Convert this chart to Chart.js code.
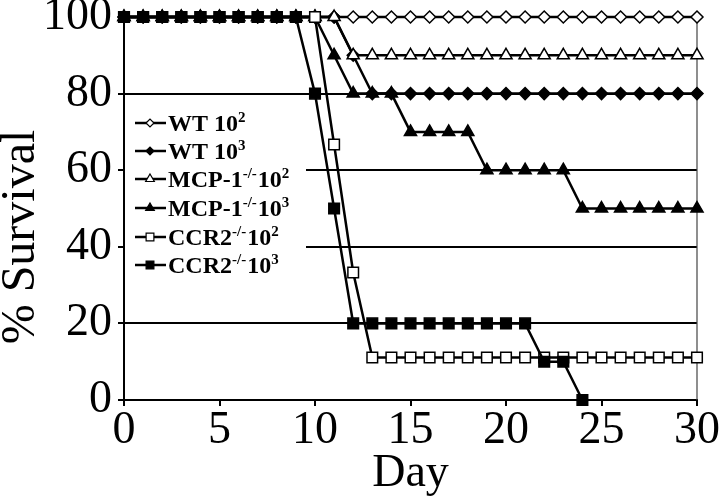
<!DOCTYPE html>
<html>
<head>
<meta charset="utf-8">
<script src="https://cdn.jsdelivr.net/npm/chart.js@4/dist/chart.umd.min.js"></script>
<style>
  html, body { margin: 0; padding: 0; background: #fff; }
  #wrap { width: 720px; height: 502px; }
</style>
</head>
<body>
<div id="wrap"><canvas id="survChart"></canvas></div>
<script>
// ----------------------------- data -----------------------------
const days   = [0,1,2,3,4,5,6,7,8,9,10,11,12,13,14,15,16,17,18,19,20,21,22,23,24,25,26,27,28,29,30];
const wt102  = [100,100,100,100,100,100,100,100,100,100,100,100,100,100,100,100,100,100,100,100,100,100,100,100,100,100,100,100,100,100,100];
const wt103  = [100,100,100,100,100,100,100,100,100,100,100,100,90,80,80,80,80,80,80,80,80,80,80,80,80,80,80,80,80,80,80];
const mcp102 = [100,100,100,100,100,100,100,100,100,100,100,100,90,90,90,90,90,90,90,90,90,90,90,90,90,90,90,90,90,90,90];
const mcp103 = [100,100,100,100,100,100,100,100,100,100,100,90,80,80,80,70,70,70,70,60,60,60,60,60,50,50,50,50,50,50,50];
const ccr102 = [100,100,100,100,100,100,100,100,100,100,100,66.7,33.3,11.1,11.1,11.1,11.1,11.1,11.1,11.1,11.1,11.1,11.1,11.1,11.1,11.1,11.1,11.1,11.1,11.1,11.1];
const ccr103 = [100,100,100,100,100,100,100,100,100,100,80,50,20,20,20,20,20,20,20,20,20,20,10,10,0,null,null,null,null,null,null];

const xTicks = [0,5,10,15,20,25,30];
const yTicks = [0,20,40,60,80,100];

// legend text pieces: text, superscript, text, superscript
const legendLabels = [
  ['WT 10', '2'],
  ['WT 10', '3'],
  ['MCP-1', '-/-', '10', '2'],
  ['MCP-1', '-/-', '10', '3'],
  ['CCR2', '-/-', '10', '2'],
  ['CCR2', '-/-', '10', '3']
];

const serif = "'Liberation Serif', 'Times New Roman', serif";

// ----------------------------- datasets -----------------------------
function toPoints(vals) {
  return days.map((d, i) => ({ x: d, y: vals[i] }));
}

const styles = [
  { style: 'rectRot',  fill: '#fff', r: 6 },
  { style: 'rectRot',  fill: '#000', r: 6 },
  { style: 'triangle', fill: '#fff', r: 7 },
  { style: 'triangle', fill: '#000', r: 7 },
  { style: 'rect',     fill: '#fff', r: 7.5 },
  { style: 'rect',     fill: '#000', r: 7.5 }
];

const series = [wt102, wt103, mcp102, mcp103, ccr102, ccr103];

const datasets = series.map((vals, i) => ({
  label: legendLabels[i].join(''),
  data: toPoints(vals),
  borderColor: '#000',
  borderWidth: 2.5,
  pointStyle: styles[i].style,
  pointRadius: styles[i].r,
  pointBackgroundColor: styles[i].fill,
  pointBorderColor: '#000',
  pointBorderWidth: 1.5,
  tension: 0,
  clip: false,
  order: series.length - i   // later series on top, as in the original
}));

// ----------------------------- legend box, frame, y title -----------------------------
const frameAndLegend = {
  id: 'frameAndLegend',
  beforeDatasetsDraw(chart) {
    const { ctx, chartArea } = chart;
    ctx.save();
    // white legend box hides the gridlines behind it
    ctx.fillStyle = '#fff';
    ctx.fillRect(chartArea.left + 1, 104, 305 - chartArea.left, 176);
    // thin right frame
    ctx.strokeStyle = '#444';
    ctx.lineWidth = 1.2;
    ctx.beginPath();
    ctx.moveTo(chartArea.right, chartArea.top);
    ctx.lineTo(chartArea.right, chartArea.bottom);
    ctx.stroke();
    ctx.restore();
  },
  afterDatasetsDraw(chart) {
    const { ctx } = chart;
    const rowY = [123, 151, 179, 208, 237, 265];
    ctx.save();
    legendLabels.forEach((parts, i) => {
      const y = rowY[i];
      ctx.strokeStyle = '#000';
      ctx.lineWidth = 2.5;
      ctx.beginPath();
      ctx.moveTo(135, y);
      ctx.lineTo(166, y);
      ctx.stroke();

      ctx.fillStyle = styles[i].fill;
      ctx.strokeStyle = '#000';
      ctx.lineWidth = 1.2;
      Chart.helpers.drawPoint(ctx, { pointStyle: styles[i].style, radius: styles[i].r - 2, borderWidth: 1.2 }, 150, y);

      ctx.fillStyle = '#000';
      ctx.textBaseline = 'alphabetic';
      ctx.textAlign = 'left';
      let x = 168;
      parts.forEach((p, k) => {
        const sup = k % 2 === 1;
        ctx.font = sup ? 'bold 15px ' + serif : 'bold 24px ' + serif;
        ctx.fillText(p, x, sup ? y - 1 : y + 8);
        x += ctx.measureText(p).width + (sup ? 1 : 0);
      });
    });

    // y axis title, sits a bit below the plot centre in the original
    ctx.translate(21, 237);
    ctx.rotate(-Math.PI / 2);
    ctx.font = '48px ' + serif;
    ctx.textAlign = 'center';
    ctx.textBaseline = 'middle';
    ctx.fillText('% Survival', 0, 0);
    ctx.restore();
  }
};

// ----------------------------- chart -----------------------------
const survChart = new Chart(document.getElementById('survChart'), {
  type: 'line',
  data: { datasets: datasets },
  options: {
    responsive: true,
    maintainAspectRatio: false,
    animation: false,
    layout: { padding: { top: 17, right: 23, bottom: 0, left: 0 } },
    plugins: {
      legend: { display: false },
      tooltip: { enabled: false }
    },
    scales: {
      x: {
        type: 'linear',
        min: 0,
        max: 30,
        afterBuildTicks: (scale) => { scale.ticks = xTicks.map(v => ({ value: v })); },
        afterFit: (scale) => {
          scale.height = 102;
          scale.paddingLeft = 0;
          scale.paddingRight = 0;
        },
        grid: { drawOnChartArea: false, drawTicks: true, tickLength: 6, tickColor: '#000', lineWidth: 2 },
        border: { display: true, color: '#000', width: 2 },
        ticks: { color: '#000', padding: 2, maxRotation: 0, font: { family: serif, size: 46, lineHeight: 1 } },
        title: {
          display: true,
          text: 'Day',
          color: '#000',
          font: { family: serif, size: 46, lineHeight: 1 },
          padding: { top: 0, bottom: 5 }
        }
      },
      y: {
        min: 0,
        max: 100,
        afterBuildTicks: (scale) => { scale.ticks = yTicks.map(v => ({ value: v })); },
        afterFit: (scale) => {
          scale.width = 124;
          scale.paddingTop = 0;
          scale.paddingBottom = 0;
        },
        grid: {
          color: (c) => (c.tick && c.tick.value > 0 && c.tick.value < 100 ? '#000' : 'rgba(0,0,0,0)'),
          tickColor: '#000',
          lineWidth: 2,
          tickLength: 6
        },
        border: { display: true, color: '#000', width: 2 },
        ticks: { color: '#000', padding: 6, font: { family: serif, size: 46, lineHeight: 1 } },
        title: { display: false }
      }
    }
  },
  plugins: [frameAndLegend]
});
</script>
</body>
</html>
